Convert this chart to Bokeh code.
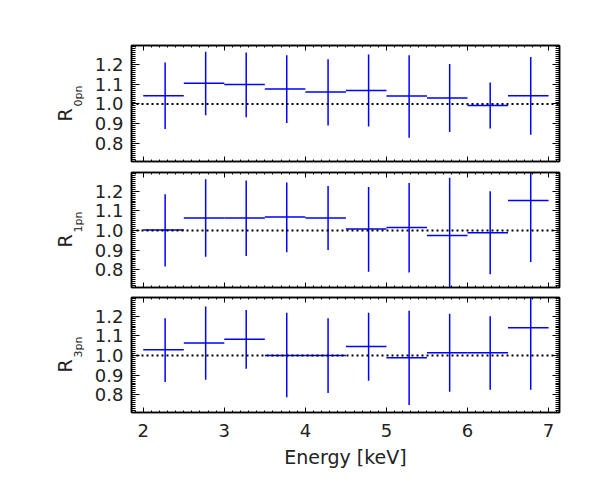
import numpy as np
from bokeh.plotting import figure
from bokeh.layouts import column
from bokeh.models import Range1d, FixedTicker, LinearAxis, Span, PrintfTickFormatter, Title
from bokeh.embed import file_html
from bokeh.resources import INLINE

# ---- data ----
bin_lo = [2.0, 2.5, 3.0, 3.5, 4.0, 4.5, 5.0, 5.5, 6.0, 6.5]
bin_hi = [2.5, 3.0, 3.5, 4.0, 4.5, 5.0, 5.5, 6.0, 6.5, 7.0]
x_mid = [2.27, 2.77, 3.27, 3.77, 4.28, 4.78, 5.28, 5.78, 6.28, 6.78]

r0_val = [1.042, 1.105, 1.098, 1.076, 1.061, 1.068, 1.040, 1.030, 0.993, 1.042]
r0_up = [1.209, 1.263, 1.260, 1.246, 1.226, 1.250, 1.246, 1.202, 1.108, 1.237]
r0_lo = [0.874, 0.943, 0.933, 0.904, 0.892, 0.886, 0.830, 0.859, 0.876, 0.845]

r1_val = [1.002, 1.064, 1.064, 1.069, 1.064, 1.007, 1.015, 0.975, 0.988, 1.152]
r1_up = [1.184, 1.261, 1.254, 1.244, 1.226, 1.221, 1.241, 1.268, 1.199, 1.330]
r1_lo = [0.817, 0.866, 0.870, 0.889, 0.901, 0.790, 0.786, 0.680, 0.778, 0.840]

r3_val = [1.029, 1.063, 1.083, 1.000, 1.000, 1.046, 0.988, 1.014, 1.014, 1.141]
r3_up = [1.189, 1.249, 1.232, 1.218, 1.189, 1.218, 1.228, 1.212, 1.200, 1.330]
r3_lo = [0.865, 0.876, 0.932, 0.788, 0.809, 0.872, 0.748, 0.816, 0.826, 0.826]

x_ticks = [2, 3, 4, 5, 6, 7]
y_ticks = [0.8, 0.9, 1.0, 1.1, 1.2]
panel_subs = ["0pn", "1pn", "3pn"]

FONT = "DejaVu Sans"
TXT = "#222222"
x_range = Range1d(1.855, 7.135)
y_minor = list(np.round(np.arange(0.71, 1.30, 0.01), 2))
x_minor = list(np.round(np.arange(1.9, 7.11, 0.1), 1))


def tick_only_axis(p, side, positions, length, line=True):
    ax = LinearAxis(ticker=FixedTicker(ticks=[], minor_ticks=positions),
                    major_tick_in=0, major_tick_out=0,
                    minor_tick_in=length, minor_tick_out=0,
                    major_label_standoff=0,
                    axis_line_width=1.5,
                    axis_line_color="black" if line else None)
    p.add_layout(ax, side)


def make_panel(vals, up, lo, sub, height, top, bottom, show_x):
    p = figure(width=592, height=height, x_range=x_range,
               y_range=Range1d(0.71, 1.295),
               output_backend="svg", toolbar_location=None,
               min_border_left=131, min_border_right=33,
               min_border_top=top, min_border_bottom=bottom,
               x_axis_location=None, y_axis_location=None)
    for g in p.grid:
        g.visible = False
    p.outline_line_color = "black"
    p.outline_line_width = 1.5
    p.background_fill_color = "white"
    p.border_fill_color = "white"

    left = LinearAxis(ticker=FixedTicker(ticks=y_ticks, minor_ticks=y_minor),
                      formatter=PrintfTickFormatter(format="%.1f"),
                      major_tick_in=8, major_tick_out=0,
                      minor_tick_in=4, minor_tick_out=0,
                      major_label_standoff=8,
                      major_label_text_font=FONT,
                      major_label_text_font_size="18px",
                      major_label_text_color=TXT,
                      axis_line_width=1.5)
    p.add_layout(left, "left")

    # y-axis title: "R" with subscript, as two stacked titles
    p.add_layout(Title(text=sub, text_font=FONT, text_font_size="11px",
                       text_font_style="normal", text_color=TXT,
                       align="left", offset=55, standoff=13), "left")
    p.add_layout(Title(text="R", text_font=FONT, text_font_size="19px",
                       text_font_style="normal", text_color=TXT,
                       align="left", offset=40, standoff=-24), "left")

    tick_only_axis(p, "right", y_minor, 4)
    tick_only_axis(p, "right", y_ticks, 7, line=False)
    tick_only_axis(p, "above", x_minor, 2)
    tick_only_axis(p, "above", x_ticks, 5, line=False)

    if show_x:
        bot = LinearAxis(ticker=FixedTicker(ticks=x_ticks, minor_ticks=x_minor),
                         major_tick_in=5, major_tick_out=0,
                         minor_tick_in=2, minor_tick_out=0,
                         major_label_standoff=11,
                         major_label_text_font=FONT,
                         major_label_text_font_size="18px",
                         major_label_text_color=TXT,
                         axis_label="Energy [keV]",
                         axis_label_standoff=6,
                         axis_label_text_font=FONT,
                         axis_label_text_font_size="19px",
                         axis_label_text_font_style="normal",
                         axis_label_text_color=TXT,
                         axis_line_width=1.5)
        p.add_layout(bot, "below")
    else:
        tick_only_axis(p, "below", x_minor, 2)
        tick_only_axis(p, "below", x_ticks, 5, line=False)

    p.add_layout(Span(location=1.0, dimension="width", line_color="black",
                      line_dash="2 3", line_width=2))

    p.segment(x0=bin_lo, x1=bin_hi, y0=vals, y1=vals,
              line_color="#0000ff", line_width=1.5)
    p.segment(x0=x_mid, x1=x_mid, y0=lo, y1=up,
              line_color="#0000ff", line_width=1.5)
    return p


p1 = make_panel(r0_val, r0_up, r0_lo, panel_subs[0], 166, 45, 5, False)
p2 = make_panel(r1_val, r1_up, r1_lo, panel_subs[1], 126, 6, 5, False)
p3 = make_panel(r3_val, r3_up, r3_lo, panel_subs[2], 200, 5, 80, True)

layout = column(p1, p2, p3, spacing=0)
open("out.html", "w").write(file_html(layout, INLINE))
